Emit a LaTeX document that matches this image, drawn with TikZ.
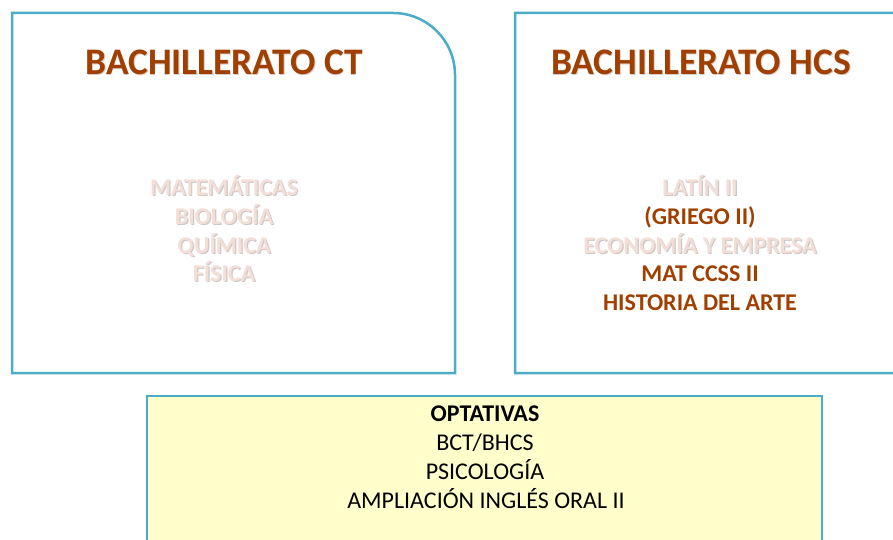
\documentclass[tikz,border=0pt]{standalone}
\usepackage{fontspec}
\setmainfont{Carlito}
\definecolor{boxline}{HTML}{4BACC6}
\definecolor{title}{HTML}{A03F00}
\definecolor{faded}{HTML}{F4DED8}
\definecolor{fadedsh}{HTML}{CFC8C6}
\definecolor{titlesh}{HTML}{D8CCC6}
\definecolor{optfill}{HTML}{FFFFCC}
\tikzset{
  boxstyle/.style={draw=boxline, line width=2.5pt},
  titletext/.style={anchor=base, inner sep=0pt, font=\fontsize{37.5}{45}\selectfont\bfseries, text=title},
  titleshadow/.style={titletext, text=titlesh},
  fadedtext/.style={anchor=base, inner sep=0pt, font=\fontsize{24}{29}\selectfont\bfseries, text=faded},
  fadedshadow/.style={fadedtext, text=fadedsh},
  boldtext/.style={anchor=base, inner sep=0pt, font=\fontsize{24}{29}\selectfont\bfseries, text=title},
  opttext/.style={anchor=base, inner sep=0pt, font=\fontsize{24}{29}\selectfont, text=black},
}
\begin{document}
\begin{tikzpicture}[x=1pt,y=-1pt]
\useasboundingbox (0,0) rectangle (893,540);
\clip (0,0) rectangle (893,540);
% boxes
\draw[boxstyle] (12,373) -- (12,13) [rounded corners=62pt] -- (455,13) [sharp corners] -- (455,373) -- cycle;
\draw[boxstyle] (515,373) -- (515,13) [rounded corners=62pt] -- (958,13) [sharp corners] -- (958,373) -- cycle;
\draw[boxstyle, fill=optfill] (147,396) rectangle (822,600);
% titles
\node[titleshadow] at (224.8,75.8) {BACHILLERATO CT};
\node[titletext] (tct) at (224,75) {BACHILLERATO CT};
\node[titleshadow] at (701.8,75.8) {BACHILLERATO HCS};
\node[titletext] (thcs) at (701,75) {BACHILLERATO HCS};
% left box subjects
\foreach \t/\y [count=\i] in {MATEMÁTICAS/195, BIOLOGÍA/224, QUÍMICA/253, FÍSICA/281}{
  \node[fadedshadow] at (225.2,\y+1.2) {\t};
  \node[fadedtext] (ct\i) at (224,\y) {\t};
}
% right box subjects
\node[fadedshadow] at (701.2,196.2) {LATÍN II};
\node[fadedtext] (h1) at (700,195) {LATÍN II};
\node[boldtext] (h2) at (700,224) {(GRIEGO II)};
\node[fadedshadow] at (701.2,254.2) {ECONOMÍA Y EMPRESA};
\node[fadedtext] (h3) at (700,253) {ECONOMÍA Y EMPRESA};
\node[boldtext] (h4) at (700,281) {MAT CCSS II};
\node[boldtext] (h5) at (700,310) {HISTORIA DEL ARTE};
% optativas
\node[opttext, font=\fontsize{24}{29}\selectfont\bfseries] (o1) at (485,421) {OPTATIVAS};
\node[opttext] (o2) at (485,450) {BCT/BHCS};
\node[opttext] (o3) at (485,479) {PSICOLOGÍA};
\node[opttext] (o4) at (486,508) {AMPLIACIÓN INGLÉS ORAL II};
\end{tikzpicture}
\end{document}
